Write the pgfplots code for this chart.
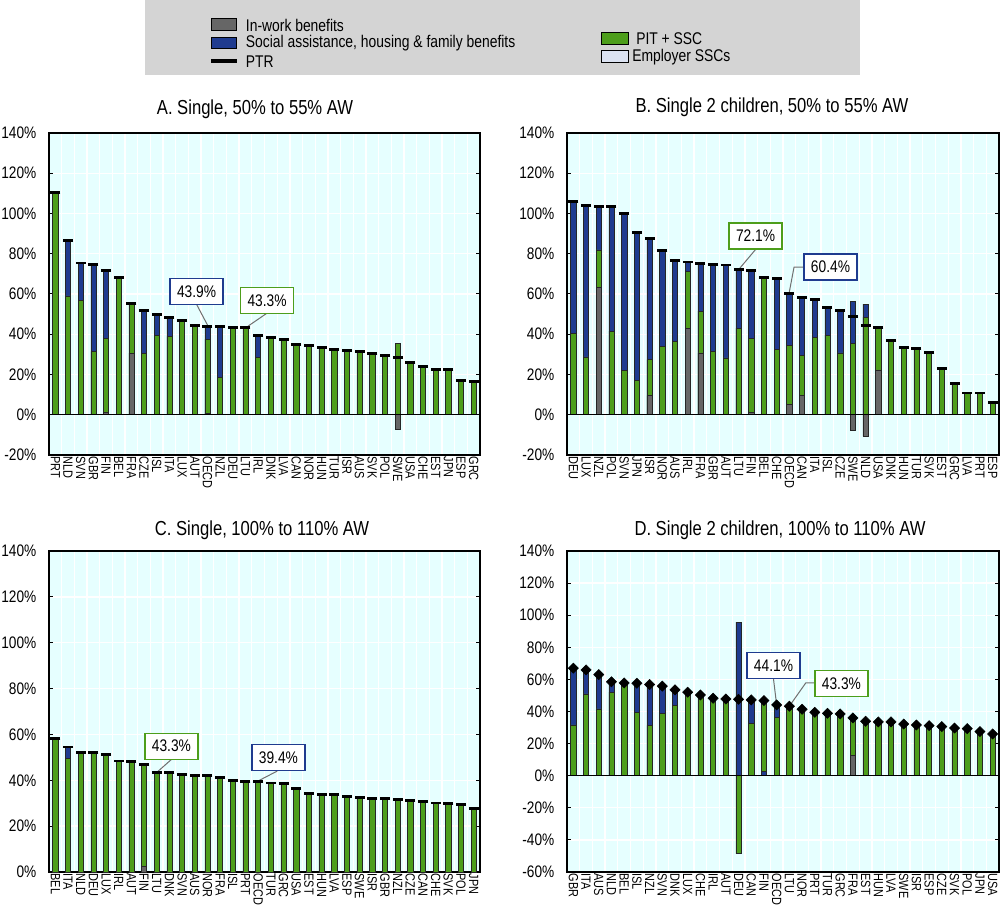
\documentclass[border=0pt]{standalone}
\usepackage{fontspec}
\setmainfont{Liberation Sans}[FakeStretch=0.82]
\usepackage{pgfplots}
\usepackage{pgfplotstable}
\pgfplotsset{compat=1.18}

\definecolor{cgreen}{HTML}{4D9E1B}
\definecolor{cblue}{HTML}{1F3B8F}
\definecolor{cgray}{HTML}{666666}
\definecolor{cbg}{HTML}{E6FFFF}
\definecolor{cleg}{HTML}{D4D4D4}
\definecolor{cemp}{HTML}{DCE3F2}
\definecolor{clead}{HTML}{707070}

\pgfplotstableread{
lab blue green gray ptr
PRT nan 110.5 nan 110.5
NLD 86.5 59.1 nan 86.5
SVN 75.4 56.8 nan 75.4
GBR 74.7 31.5 nan 74.7
FIN 71.6 38.1 1.2 71.6
BEL nan 68.4 nan 68.4
FRA nan 55.5 30.6 55.5
CZE 51.9 30.6 nan 51.9
ISL 50.0 39.4 nan 50.0
ITA 48.4 38.9 nan 48.4
LUX nan 46.9 nan 46.9
AUT nan 44.2 nan 44.2
OECD 43.9 37.6 0.7 43.9
NZL 43.9 18.7 nan 43.9
DEU nan 43.4 nan 43.4
LTU nan 43.3 nan 43.3
IRL 39.3 28.5 nan 39.3
DNK nan 38.4 nan 38.4
LVA nan 37.3 nan 37.3
CAN nan 34.8 nan 34.8
NOR nan 34.3 nan 34.3
HUN nan 33.5 nan 33.5
TUR nan 32.6 nan 32.6
ISR nan 32.0 nan 32.0
AUS nan 31.5 nan 31.5
SVK nan 30.6 nan 30.6
POL nan 29.3 nan 29.3
SWE nan 35.6 -7.1 28.5
USA nan 26.0 nan 26.0
CHE nan 24.0 nan 24.0
EST nan 22.7 nan 22.7
JPN nan 22.7 nan 22.7
ESP nan 16.9 nan 16.9
GRC nan 16.6 nan 16.6
}\tA

\pgfplotstableread{
lab blue green gray ptr
DEU 106.1 40.5 nan 106.1
LUX 104.0 28.7 nan 104.0
NZL 103.5 81.9 63.1 103.5
POL 103.5 41.5 nan 103.5
SVN 100.2 21.9 nan 100.2
JPN 90.5 17.1 nan 90.5
ISR 87.7 27.4 9.5 87.7
NOR 81.6 34.1 nan 81.6
AUS 76.7 36.5 nan 76.7
IRL 75.9 71.4 42.9 75.9
FRA 75.2 51.5 30.7 75.2
GBR 74.8 31.6 nan 74.8
AUT 74.4 28.2 nan 74.4
LTU 72.1 43.0 nan 72.1
FIN 71.8 38.0 1.2 71.8
BEL nan 68.4 nan 68.4
CHE 67.9 32.4 nan 67.9
OECD 60.4 34.6 5.0 60.4
CAN 58.3 29.6 9.5 58.3
ITA 57.3 38.5 nan 57.3
ISL 53.2 39.5 nan 53.2
CZE 51.8 30.7 nan 51.8
SWE 56.3 35.4 -7.5 49.0
NLD 55.0 48.5 -10.8 44.4
USA nan 43.5 22.3 43.5
DNK nan 36.9 nan 36.9
HUN nan 33.6 nan 33.6
TUR nan 32.7 nan 32.7
SVK nan 31.1 nan 31.1
EST nan 22.8 nan 22.8
GRC nan 15.6 nan 15.6
LVA nan 10.8 nan 10.8
PRT nan 10.8 nan 10.8
ESP nan 6.3 nan 6.3
}\tB

\pgfplotstableread{
lab blue green gray ptr
BEL nan 58.1 nan 58.1
ITA 54.5 49.7 nan 54.5
NLD nan 52.3 nan 52.3
DEU nan 52.0 nan 52.0
LUX nan 51.3 nan 51.3
IRL nan 48.4 nan 48.4
AUT nan 48.3 nan 48.3
FIN nan 47.0 2.6 47.0
LTU nan 43.3 nan 43.3
DNK nan 43.3 nan 43.3
SVN nan 42.4 nan 42.4
AUS nan 42.0 nan 42.0
NOR nan 41.9 nan 41.9
FRA nan 41.4 nan 41.4
ISL nan 39.8 nan 39.8
PRT nan 39.5 nan 39.5
OECD nan 39.4 nan 39.4
TUR nan 38.8 nan 38.8
GRC nan 38.4 nan 38.4
USA nan 36.5 nan 36.5
EST nan 34.2 nan 34.2
HUN nan 33.6 nan 33.6
LVA nan 33.6 nan 33.6
ESP nan 33.0 nan 33.0
SWE nan 32.6 nan 32.6
ISR nan 32.0 nan 32.0
GBR nan 32.0 nan 32.0
NZL nan 31.7 nan 31.7
CZE nan 31.3 nan 31.3
CAN nan 30.7 nan 30.7
CHE nan 30.1 nan 30.1
SVK nan 29.8 nan 29.8
POL nan 29.5 nan 29.5
JPN nan 27.6 nan 27.6
}\tC

\pgfplotstableread{
lab blue green gray blueb ptr
GBR 67.0 31.6 nan nan 67.0
ITA 65.9 51.0 nan nan 65.9
AUS 63.0 41.6 nan nan 63.0
NLD 58.5 52.0 nan nan 58.5
BEL nan 57.8 nan nan 57.8
ISL 57.6 39.5 nan nan 57.6
NZL 56.8 31.4 nan nan 56.8
SVN 55.8 38.9 nan nan 55.8
DNK 53.5 43.7 nan nan 53.5
LUX nan 52.0 nan nan 52.0
CHE nan 50.3 nan nan 50.3
IRL nan 48.3 nan nan 48.3
AUT nan 47.8 nan nan 47.8
DEU 95.7 -48.5 nan nan 47.6
CAN 47.2 32.7 nan nan 47.2
FIN nan 46.8 nan 2.7 46.8
OECD 44.1 36.4 nan nan 44.1
LTU nan 43.3 nan nan 43.3
NOR nan 41.4 nan nan 41.4
PRT nan 39.5 nan nan 39.5
TUR nan 38.9 nan nan 38.9
GRC nan 38.5 nan nan 38.5
FRA nan 36.0 12.9 nan 36.0
EST nan 33.9 nan nan 33.9
HUN nan 33.5 nan nan 33.5
LVA nan 33.5 nan nan 33.5
SWE nan 32.2 nan nan 32.2
ISR nan 31.6 nan nan 31.6
ESP nan 31.2 nan nan 31.2
CZE nan 30.6 nan nan 30.6
SVK nan 29.7 nan nan 29.7
POL nan 29.3 nan nan 29.3
JPN nan 27.5 nan nan 27.5
USA nan 26.0 nan nan 26.0
}\tD

\pgfplotsset{
  panel/.style={
    scale only axis,
    anchor=south west,
    clip=false,
    xmin=-0.5, xmax=33.5,
    axis background/.style={fill=cbg},
    axis line style={black, line width=1.1pt},
    xtick={0,...,33},
    x tick label style={rotate=-90, anchor=west, font=\fontsize{10}{10}\selectfont, inner sep=1pt},
    xtick style={draw=none},
    minor xtick={-0.5,0.5,...,33.5},
    xminorgrids,
    minor grid style={white, line width=1pt},
    minor tick length=0pt,
    ymajorgrids,
    major grid style={white, line width=1pt},
    ytick distance=20,
    yticklabel={\pgfmathprintnumber[assume math mode=true]{\tick}\%},
    y tick label style={font=\fontsize{12.5}{12.5}\selectfont, xshift=-6pt},
    tick align=inside,
    major tick length=3pt,
    ytick style={black, line width=0.75pt},
  },
  bars/.style={ybar, bar width=3.9pt, bar shift=0pt, draw=black!85, line width=0.4pt},
  ptrdash/.style={only marks, mark=-, mark size=3.75pt, mark options={line width=2.2pt, black}},
}
\tikzset{
  callout/.style={fill=white, line width=0.9pt, minimum width=39.75pt, minimum height=19.5pt, inner sep=0pt, font=\fontsize{12.6}{12.6}\selectfont},
  lead/.style={clead, line width=0.75pt},
  legtext/.style={anchor=west, inner sep=0pt, font=\fontsize{12.7}{13}\selectfont},
  ttl/.style={font=\fontsize{15.2}{15.2}\selectfont},
}

\begin{document}
\begin{tikzpicture}
\useasboundingbox (0,0) rectangle (750pt,678.75pt);

% Legend
\fill[cleg] (108.75pt,622.5pt) rectangle (645pt,678.75pt);
\filldraw[fill=cgray, draw=black, line width=0.75pt] (158.25pt,655.7pt) rectangle (177.5pt,665pt);
\filldraw[fill=cblue, draw=black, line width=0.75pt] (158.25pt,642pt) rectangle (177.5pt,650.8pt);
\draw[black, line width=3pt] (158.25pt,633.2pt) -- (177.5pt,633.2pt);
\node[legtext] at (184.25pt,660pt) {In-work benefits};
\node[legtext] at (184.25pt,646.3pt) {Social assistance, housing \& family benefits};
\node[legtext] at (184.25pt,632.5pt) {PTR};
\filldraw[fill=cgreen, draw=black, line width=0.75pt] (450.75pt,645pt) rectangle (471pt,654pt);
\filldraw[fill=cemp, draw=black, line width=0.75pt] (450.75pt,631.5pt) rectangle (471pt,640.5pt);
\node[legtext] at (477pt,649.5pt) {PIT + SSC};
\node[legtext] at (474pt,636pt) {Employer SSCs};

% Titles
\node[ttl] at (191.25pt,597pt) {A. Single, 50\% to 55\% AW};
\node[ttl] at (579pt,598pt) {B. Single 2 children, 50\% to 55\% AW};
\node[ttl] at (196.5pt,281.25pt) {C. Single, 100\% to 110\% AW};
\node[ttl] at (585pt,281.25pt) {D. Single 2 children, 100\% to 110\% AW};

% Panel A
\begin{axis}[panel, at={(36.75pt,337.5pt)}, width=323.25pt, height=241.5pt,
  ymin=-20, ymax=140, xticklabels from table={\tA}{lab}]
\addplot[bars, fill=cblue] table[x expr=\coordindex, y=blue]{\tA};
\addplot[bars, fill=cgreen] table[x expr=\coordindex, y=green]{\tA};
\addplot[bars, fill=cgray] table[x expr=\coordindex, y=gray]{\tA};
\addplot[ptrdash] table[x expr=\coordindex, y=ptr]{\tA};
\draw[black, line width=0.9pt] (axis cs:-0.5,0) -- (axis cs:33.5,0);
\draw[lead] (axis cs:11.17,54.5) -- (axis cs:12,44.6);
\node[callout, draw=cblue] at (axis cs:11.14,61.2) {43.9\%};
\draw[lead] (axis cs:16.7,50.5) -- (axis cs:15.2,44.0);
\node[callout, draw=cgreen] at (axis cs:16.7,56.9) {43.3\%};
\end{axis}

% Panel B
\begin{axis}[panel, at={(425.25pt,337.5pt)}, width=324pt, height=241.5pt,
  ymin=-20, ymax=140, xticklabels from table={\tB}{lab}]
\addplot[bars, fill=cblue] table[x expr=\coordindex, y=blue]{\tB};
\addplot[bars, fill=cgreen] table[x expr=\coordindex, y=green]{\tB};
\addplot[bars, fill=cgray] table[x expr=\coordindex, y=gray]{\tB};
\addplot[ptrdash] table[x expr=\coordindex, y=ptr]{\tB};
\draw[black, line width=0.9pt] (axis cs:-0.5,0) -- (axis cs:33.5,0);
\draw[lead] (axis cs:14.38,82.4) -- (axis cs:13.1,72.8);
\node[callout, draw=cgreen] at (axis cs:14.34,88.8) {72.1\%};
\draw[lead] (axis cs:18.2,73.4) -- (axis cs:17.37,73.4) -- (axis cs:17.0,61.1);
\node[callout, draw=cblue] at (axis cs:20.24,73.4) {60.4\%};
\end{axis}

% Panel C
\begin{axis}[panel, at={(36.75pt,24.75pt)}, width=323.25pt, height=240.75pt,
  ymin=0, ymax=140, xticklabels from table={\tC}{lab}]
\addplot[bars, fill=cblue] table[x expr=\coordindex, y=blue]{\tC};
\addplot[bars, fill=cgreen] table[x expr=\coordindex, y=green]{\tC};
\addplot[bars, fill=cgray] table[x expr=\coordindex, y=gray]{\tC};
\addplot[ptrdash] table[x expr=\coordindex, y=ptr]{\tC};
\draw[lead] (axis cs:9.2,49.3) -- (axis cs:8.1,43.9);
\node[callout, draw=cgreen] at (axis cs:9.16,54.9) {43.3\%};
\draw[lead] (axis cs:17.5,44.0) -- (axis cs:16.1,40.0);
\node[callout, draw=cblue] at (axis cs:17.6,49.9) {39.4\%};
\end{axis}

% Panel D
\begin{axis}[panel, at={(425.25pt,24.75pt)}, width=324pt, height=240.75pt,
  ymin=-60, ymax=140, xticklabels from table={\tD}{lab}]
\addplot[bars, fill=cblue] table[x expr=\coordindex, y=blue]{\tD};
\addplot[bars, fill=cgreen] table[x expr=\coordindex, y=green]{\tD};
\addplot[bars, fill=cgray] table[x expr=\coordindex, y=gray]{\tD};
\addplot[bars, fill=cblue] table[x expr=\coordindex, y=blueb]{\tD};
\draw[black, line width=0.9pt] (axis cs:-0.5,0) -- (axis cs:33.5,0);
\addplot[only marks, mark=square*, mark size=2.7pt, mark options={rotate=45, fill=black, draw=black}] table[x expr=\coordindex, y=ptr]{\tD};
\draw[lead] (axis cs:15.75,60.4) -- (axis cs:16,44.1);
\node[callout, draw=cblue] at (axis cs:15.75,68.5) {44.1\%};
\draw[lead] (axis cs:19.02,57.9) -- (axis cs:18.3,57.9) -- (axis cs:17,43.3);
\node[callout, draw=cgreen] at (axis cs:21.1,57.6) {43.3\%};
\end{axis}
\end{tikzpicture}
\end{document}
